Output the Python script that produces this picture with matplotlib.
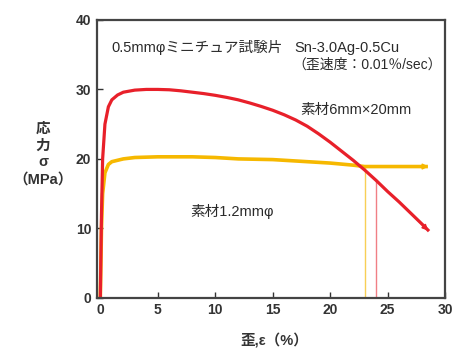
import matplotlib
matplotlib.use("Agg")
import matplotlib.pyplot as plt

plt.rcParams['font.family'] = ['Liberation Sans', 'Noto Sans CJK JP', 'DejaVu Sans']

# Red: 素材6mm×20mm
red_x = [0, 0.1, 0.2, 0.4, 0.7, 1.0, 1.5, 2, 3, 4, 5, 6, 7, 8, 9, 10, 11, 12, 13, 14, 15, 16, 17, 18, 19, 20, 21, 22, 23, 24, 25, 26, 27, 28, 28.6]
red_y = [0, 12, 20, 25, 27.5, 28.5, 29.2, 29.6, 29.9, 30.0, 30.0, 29.95, 29.8, 29.6, 29.4, 29.15, 28.85, 28.5, 28.05, 27.55, 27.0, 26.35, 25.6, 24.7, 23.6, 22.4, 21.1, 19.8, 18.4, 16.9, 15.3, 13.8, 12.2, 10.6, 9.6]
# Yellow: 素材1.2mmφ
yel_x = [0, 0.1, 0.2, 0.4, 0.7, 1, 2, 3, 5, 8, 10, 12, 15, 18, 20, 22, 23, 28.5]
yel_y = [0, 10, 15, 18, 19.2, 19.6, 20.0, 20.2, 20.3, 20.3, 20.2, 20.0, 19.9, 19.6, 19.4, 19.1, 18.9, 18.9]
# fracture lines
red_break_x = 24.0
red_break_y = 16.9
yel_break_x = 23.0
yel_break_y = 18.9

xticks = [0, 5, 10, 15, 20, 25, 30]
yticks = [0, 10, 20, 30, 40]

RED = '#e8202a'
YEL = '#f6b800'
TXT = '#2a2a2a'

fig = plt.figure(figsize=(4.57, 3.5), dpi=100)
ax = fig.add_axes([0.212, 0.149, 0.762, 0.794])

ax.plot([yel_break_x, yel_break_x], [0, yel_break_y], color='#f8cf55', lw=1.0)
ax.plot([red_break_x, red_break_x], [0, red_break_y], color='#f07f85', lw=1.0)
ax.plot(yel_x, yel_y, color=YEL, lw=2.6, solid_capstyle='butt')
ax.plot(red_x, red_y, color=RED, lw=2.3, solid_capstyle='butt')

# arrow heads at ends
ax.annotate('', xy=(yel_x[-1] + 0.3, yel_y[-1]), xytext=(yel_x[-2] + 4, yel_y[-1]),
            arrowprops=dict(arrowstyle='-|>', color=YEL, lw=1.2, mutation_scale=8))
ax.annotate('', xy=(red_x[-1] + 0.1, red_y[-1] - 0.2), xytext=(red_x[-3], red_y[-3]),
            arrowprops=dict(arrowstyle='-|>', color=RED, lw=1.2, mutation_scale=8))

ax.set_xlim(-0.3, 30)
ax.set_ylim(0, 40)
ax.set_xticks(xticks)
ax.set_yticks(yticks)
ax.tick_params(direction='in', length=4, width=1, labelsize=10, colors='#333333', pad=4)
for lab in ax.get_xticklabels() + ax.get_yticklabels():
    lab.set_fontweight('bold')
for s in ax.spines.values():
    s.set_linewidth(1.6)
    s.set_color('#444444')

ax.text(1.0, 36.0, '0.5mmφミニチュア試験片', fontsize=10.5, color=TXT, va='center')
ax.text(16.9, 36.0, 'Sn-3.0Ag-0.5Cu', fontsize=10.5, color=TXT, va='center')
ax.text(16.7, 33.5, '（歪速度：0.01％/sec）', fontsize=10, color=TXT, va='center')
ax.text(17.4, 27.0, '素材6mm×20mm', fontsize=10.5, color=TXT, va='center')
ax.text(7.8, 12.4, '素材1.2mmφ', fontsize=10.5, color=TXT, va='center')

fig.text(0.094, 0.56, '応\n力\nσ\n（MPa）', fontsize=10.5, color='#333333', ha='center', va='center',
         linespacing=1.25, fontweight='bold')
fig.text(0.60, 0.025, '歪,ε（%）', fontsize=10.5, color='#333333', ha='center', va='center', fontweight='bold')

fig.savefig('out.png', dpi=100)
